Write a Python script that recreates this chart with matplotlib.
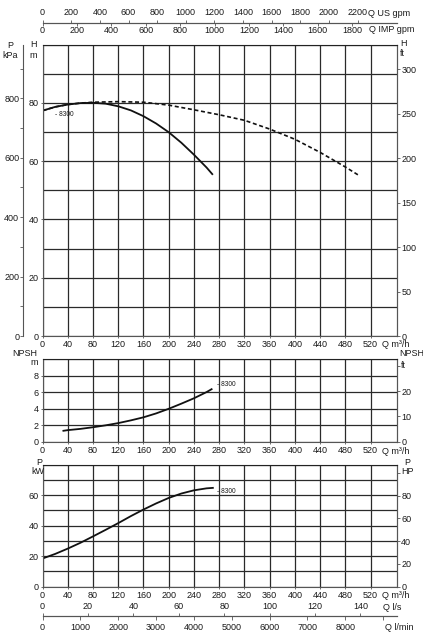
import numpy as np
import matplotlib
matplotlib.use('Agg')
import matplotlib.pyplot as plt

plt.rcParams['font.family'] = ['Liberation Sans', 'DejaVu Sans']
plt.rcParams['font.size'] = 6.5

W_PX, H_PX = 423, 633
TXT = '#1a1a1a'
GRID = '#2a2a2a'
SPINE = '#555555'

# flow ticks (m3/h)
q_ticks = list(range(0, 521, 40))

# head curve (solid), H in m
q_head = [0, 20, 40, 60, 80, 100, 120, 140, 160, 180, 200, 220, 240, 260, 270]
h_head = [77.3, 78.6, 79.4, 79.9, 80.0, 79.7, 78.8, 77.4, 75.4, 72.9, 69.9, 66.3, 62.2, 57.8, 55.3]

# head curve (dashed)
q_head2 = [0, 20, 40, 60, 80, 120, 160, 200, 240, 280, 320, 360, 400, 440, 480, 500]
h_head2 = [77.3, 78.6, 79.4, 79.9, 80.2, 80.4, 80.2, 79.2, 77.6, 75.9, 74.0, 71.0, 67.5, 63.0, 58.0, 55.3]

# NPSH, m
q_npsh = [33, 40, 60, 80, 100, 120, 140, 160, 180, 200, 220, 240, 260, 268]
npsh = [1.32, 1.4, 1.55, 1.75, 1.98, 2.25, 2.58, 2.95, 3.42, 3.98, 4.6, 5.25, 6.0, 6.35]

# shaft power, kW
q_pow = [0, 20, 40, 60, 80, 100, 120, 140, 160, 180, 200, 220, 240, 260, 270]
p_kw = [18.5, 21.5, 25.0, 28.8, 33.0, 37.3, 41.7, 46.3, 50.6, 54.6, 58.2, 61.1, 63.2, 64.5, 64.8]

model = '8300'

# unit scales
KPA_PER_M = 9.81
FT_PER_M = 3.2808
USGPM = 4.4029
IMPGPM = 3.6662
LS = 1 / 3.6
LMIN = 1000 / 60
HP_PER_KW = 1.341

fig = plt.figure(figsize=(W_PX / 100, H_PX / 100), dpi=100)


def fx(x):
    return x / W_PX


def fy(y):
    return 1 - y / H_PX


def rect(x0, y0, x1, y1):
    return [fx(x0), fy(y1), (x1 - x0) / W_PX, (y1 - y0) / H_PX]


def panel(r, ylim, yticks, ygrid):
    ax = fig.add_axes(r)
    ax.set_xlim(0, 562)
    ax.set_ylim(*ylim)
    ax.set_xticks(q_ticks)
    ax.set_yticks(yticks)
    ax.set_yticks(ygrid, minor=True)
    ax.grid(True, which='major', axis='x', color=GRID, lw=0.9)
    ax.grid(True, which='both', axis='y', color=GRID, lw=0.9)
    ax.tick_params(which='minor', length=0)
    ax.tick_params(which='major', length=1.5, width=0.6, pad=1.5,
                   colors=SPINE, labelcolor=TXT)
    for s in ax.spines.values():
        s.set_color(SPINE)
        s.set_linewidth(0.8)
    ax.spines['top'].set_color('#222222')
    ax.set_axisbelow(True)
    return ax


def right_axis(ax, funcs, ticks, labels):
    sec = ax.secondary_yaxis('right', functions=funcs)
    sec.set_yticks(ticks, labels)
    sec.tick_params(length=2, width=0.6, pad=1, colors=SPINE, labelcolor=TXT)
    sec.spines['right'].set_color(SPINE)
    sec.spines['right'].set_linewidth(0.8)
    return sec


def label(x, y, s, ha='center', size=6.5):
    fig.text(fx(x), fy(y), s, ha=ha, va='center', color=TXT, fontsize=size)


# ---------- head panel ----------
ax_h = panel(rect(42.6, 44.5, 397, 336), (0, 100), [0, 20, 40, 60, 80], list(range(0, 101, 10)))
ax_h.plot(q_head, h_head, color='#111111', lw=1.3, solid_capstyle='butt')
ax_h.plot(q_head2, h_head2, color='#111111', lw=1.2, dashes=(2.4, 1.6))
ax_h.text(19, 76, '- ' + model, fontsize=4.8, color=TXT, ha='left', va='center')

kpa = ax_h.secondary_yaxis(-20 / 354.4, functions=(lambda m: m * KPA_PER_M, lambda p: p / KPA_PER_M))
kpa.set_yticks([0, 200, 400, 600, 800])
kpa.set_yticks(list(range(100, 1000, 200)), minor=True)
kpa.tick_params(which='both', length=2, width=0.6, pad=0.5, colors=SPINE, labelcolor=TXT)
kpa.spines['left'].set_color(SPINE)
kpa.spines['left'].set_linewidth(0.8)

right_axis(ax_h, (lambda m: m * FT_PER_M, lambda f: f / FT_PER_M),
           list(range(0, 301, 50)), [str(v) for v in range(0, 301, 50)])

loc_top = 1 + (44.5 - 22.7) / (336 - 44.5)
us = ax_h.secondary_xaxis(loc_top, functions=(lambda q: q * USGPM, lambda g: g / USGPM))
us.set_xticks(list(range(0, 2201, 200)))
us.tick_params(length=2.4, width=0.6, pad=1.5, colors=SPINE, labelcolor=TXT)
imp = ax_h.secondary_xaxis(loc_top, functions=(lambda q: q * IMPGPM, lambda g: g / IMPGPM))
imp.set_alignment('bottom')
imp.set_xticks(list(range(0, 1801, 200)))
imp.tick_params(length=2, width=0.6, pad=0.6, colors=SPINE, labelcolor=TXT)
for a in (us, imp):
    for s in a.spines.values():
        s.set_color(SPINE)
        s.set_linewidth(0.8)

label(368, 13, 'Q US gpm', ha='left')
label(369, 29.7, 'Q IMP gpm', ha='left')
label(10, 45, 'P')
label(10, 56, 'kPa')
label(33, 44.5, 'H')
label(33, 55.5, 'm')
label(400, 43, 'H', ha='left')
label(400, 53, 'ft', ha='left')
label(382, 344.5, 'Q m³/h', ha='left')

# ---------- NPSH panel ----------
ax_n = panel(rect(42.6, 359, 397, 441.7), (0, 10), [0, 2, 4, 6, 8], [0, 2, 4, 6, 8, 10])
ax_n.plot(q_npsh, npsh, color='#111111', lw=1.3)
ax_n.text(277, 6.9, '- ' + model, fontsize=4.8, color=TXT, ha='left', va='center')
right_axis(ax_n, (lambda m: m * FT_PER_M, lambda f: f / FT_PER_M),
           [0, 10, 20, 30], ['0', '10', '20', ''])
label(25, 353.5, 'NPSH')
label(34, 362.5, 'm')
label(399, 353.5, 'NPSH', ha='left')
label(401, 365, 'ft', ha='left')
label(382, 451, 'Q m³/h', ha='left')

# ---------- power panel ----------
ax_p = panel(rect(42.6, 464.7, 397, 586.7), (0, 80), [0, 20, 40, 60], list(range(0, 81, 10)))
ax_p.plot(q_pow, p_kw, color='#111111', lw=1.3)
ax_p.text(276, 62.7, '- ' + model, fontsize=4.8, color=TXT, ha='left', va='center')
right_axis(ax_p, (lambda k: k * HP_PER_KW, lambda h: h / HP_PER_KW),
           list(range(0, 101, 20)), ['0', '20', '40', '60', '80', ''])
label(39, 462.5, 'P')
label(37.5, 471.5, 'kW')
label(407, 462.5, 'P')
label(407, 472, 'HP')
label(382, 596, 'Q m³/h', ha='left')

loc_bot = -(615.7 - 586.7) / (586.7 - 464.7)
ls = ax_p.secondary_xaxis(loc_bot, functions=(lambda q: q * LS, lambda v: v / LS))
ls.set_alignment('top')
ls.set_xticks(list(range(0, 141, 20)))
ls.tick_params(length=2.4, width=0.6, pad=0.8, colors=SPINE, labelcolor=TXT)
lmin = ax_p.secondary_xaxis(loc_bot, functions=(lambda q: q * LMIN, lambda v: v / LMIN))
lmin.set_xticks(list(range(0, 9001, 1000)), [str(v) for v in range(0, 8001, 1000)] + [''])
lmin.tick_params(length=3, width=0.6, pad=2, colors=SPINE, labelcolor=TXT)
for a in (ls, lmin):
    for s in a.spines.values():
        s.set_color(SPINE)
        s.set_linewidth(0.8)

label(383, 608, 'Q l/s', ha='left')
label(385, 627, 'Q l/min', ha='left')

fig.savefig('out.png', dpi=100, facecolor='white')
